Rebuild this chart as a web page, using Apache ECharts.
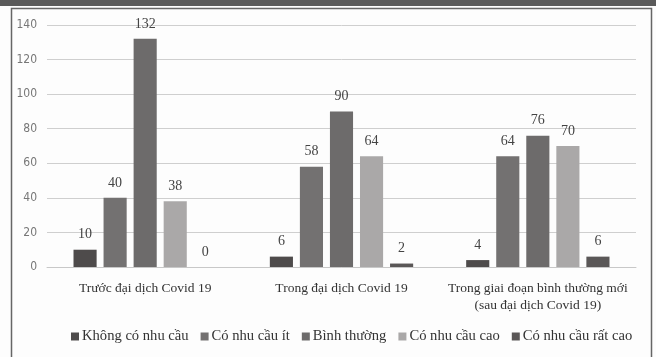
<!DOCTYPE html>
<html><head><meta charset="utf-8">
<script src="https://cdn.jsdelivr.net/npm/echarts@6/dist/echarts.min.js"></script>
<style>html,body{margin:0;padding:0;background:#fff}#c{width:656px;height:357px}</style>
</head><body><div id="c"></div>
<script>
const categories = ['Trước đại dịch Covid 19', 'Trong đại dịch Covid 19', 'Trong giai đoạn bình thường mới\n(sau đại dịch Covid 19)'];
const seriesNames = ['Không có nhu cầu', 'Có nhu cầu ít', 'Bình thường', 'Có nhu cầu cao', 'Có nhu cầu rất cao'];
const khongCo = [10, 6, 4];
const coIt = [40, 58, 64];
const binhThuong = [132, 90, 76];
const cao = [38, 64, 70];
const ratCao = [0, 2, 6];
const yTicks = [0, 20, 40, 60, 80, 100, 120, 140];

const colors = ['#4e4b4b', '#737171', '#6d6b6b', '#aaa8a8', '#5a5757'];
const values = [khongCo, coIt, binhThuong, cao, ratCao];
const serif = "'Liberation Serif', 'DejaVu Serif', serif";

const chart = echarts.init(document.getElementById('c'));
chart.setOption({
  animation: false,
  backgroundColor: '#fdfdfd',
  grid: { left: 47, right: 20, top: 25, bottom: 90 },
  legend: {
    bottom: 8, left: 66,
    itemWidth: 8, itemHeight: 8, itemGap: 12,
    icon: 'rect',
    textStyle: { fontFamily: serif, fontSize: 14.6, color: '#333', padding: [0, 0, 0, -2] },
    data: seriesNames
  },
  xAxis: {
    type: 'category', data: categories,
    axisLine: { lineStyle: { color: '#c8c8c8' } },
    axisTick: { show: false },
    axisLabel: { interval: 0, fontFamily: serif, fontSize: 13.5, color: '#333', margin: 13, lineHeight: 17 }
  },
  yAxis: {
    type: 'value', min: yTicks[0], max: yTicks[yTicks.length - 1], interval: 20,
    axisLine: { show: false }, axisTick: { show: false },
    splitLine: { lineStyle: { color: '#cfcfcf' } },
    axisLabel: { fontFamily: "'Liberation Sans Narrow', 'DejaVu Sans Condensed', sans-serif", fontSize: 12, color: '#777', margin: 10 }
  },
  series: seriesNames.map((n, i) => ({
    name: n, type: 'bar', data: values[i],
    barGap: '30%', barCategoryGap: '27%',
    itemStyle: { color: colors[i] },
    label: { show: true, position: 'top', distance: 8, fontFamily: serif, fontSize: 14, color: '#444' }
  })),
  graphic: [
    { type: 'rect', shape: { x: 0, y: 0, width: 656, height: 6 }, style: { fill: '#5a5a5a' }, silent: true },
    { type: 'rect', shape: { x: 11.5, y: 8.5, width: 640, height: 360 }, style: { fill: 'none', stroke: '#666', lineWidth: 1.5 }, silent: true, z: 100 }
  ]
});
</script></body></html>
